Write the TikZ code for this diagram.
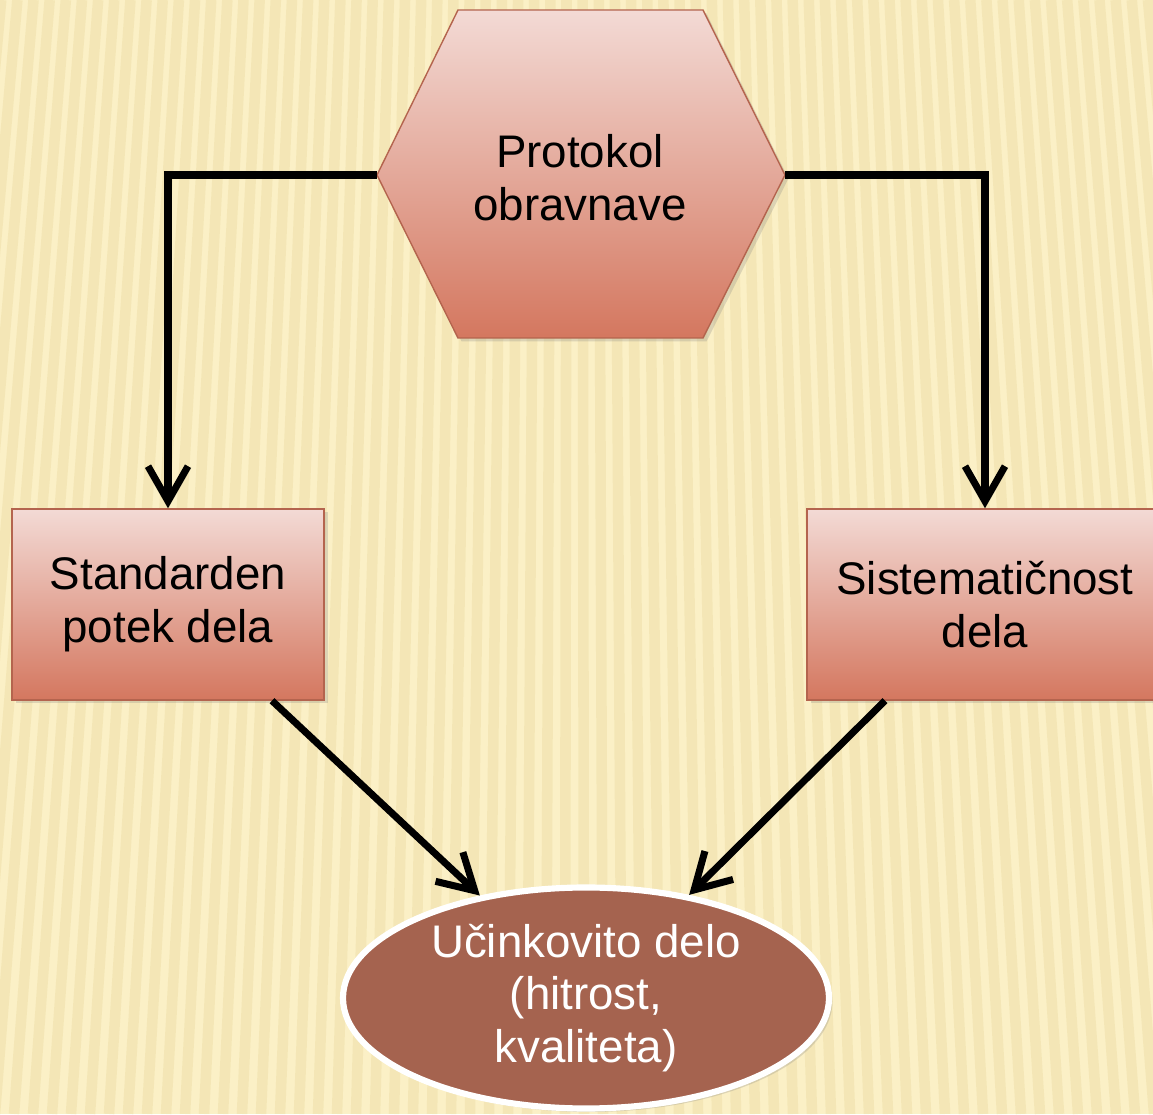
\documentclass[tikz,border=0pt]{standalone}
\usepackage{fontspec}
\setmainfont{Liberation Sans}
\usetikzlibrary{shapes.geometric, arrows.meta, positioning, calc, shadows}
\definecolor{paperyellow}{RGB}{251, 240, 198}
\definecolor{stripeyellow}{RGB}{230, 210, 146}
\definecolor{rosetop}{RGB}{243, 218, 213}
\definecolor{rosebot}{RGB}{212, 119, 95}
\definecolor{roseedge}{RGB}{180, 100, 78}
\definecolor{clayfill}{RGB}{165, 99, 79}

\begin{document}
\begin{tikzpicture}[
  rosebox/.style={draw=roseedge, line width=0.8pt, top color=rosetop, bottom color=rosebot,
    minimum height=3.82cm, inner sep=0pt, align=center},
  softshadow/.style={drop shadow={opacity=0.25, shadow xshift=0.07cm, shadow yshift=-0.07cm}},
  bigtext/.style={font=\fontsize{26}{30}\selectfont, align=center},
  flow/.style={line width=4pt, -{Straight Barb[length=0.7cm, width=0.8cm]}}
]
  \useasboundingbox (0,0) rectangle (23.06,22.28);
  \clip (0,0) rectangle (23.06,22.28);

  % Background: yellow paper with fanned stripes
  \fill[paperyellow] (0,0) rectangle (23.06,22.28);
  \foreach \x in {-2,-1.62,...,25.5}
    \draw[stripeyellow, line width=6pt, opacity=0.3] (\x,0) -- ({11.5+(\x-11.5)*0.85},22.28);

  % Hexagon: protocol
  \coordinate (hexW) at (7.54,18.78);
  \coordinate (hexE) at (15.70,18.78);
  \path[draw=roseedge, line width=0.8pt, top color=rosetop, bottom color=rosebot, softshadow]
    (hexW) -- (9.16,22.08) -- (14.06,22.08) -- (hexE) -- (14.06,15.52) -- (9.16,15.52) -- cycle;
  \node[bigtext] (proto) at (11.6,18.72) {Protokol\\obravnave};

  % Two boxes
  \node[rosebox, softshadow, minimum width=6.24cm, bigtext] (std) at (3.36,10.19) {Standarden\\potek dela};
  \node[rosebox, softshadow, minimum width=7.12cm, bigtext] (sis) at (19.7,10.19) {Sistematičnost\\dela};

  % Result ellipse
  \node[ellipse, draw=white, line width=3.5pt, fill=clayfill, softshadow, inner sep=0pt,
    minimum width=9.72cm, minimum height=4.42cm, bigtext, text=white] (eff) at (11.72,2.32)
    {Učinkovito delo\\(hitrost,\\kvaliteta)};

  % Connectors
  \draw[flow] (hexW) -| (std.north);
  \draw[flow] (hexE) -| (sis.north);
  \draw[flow] ([xshift=2.08cm]std.south) -- (eff.136);
  \draw[flow] ([xshift=-2.0cm]sis.south) -- (eff.45);
\end{tikzpicture}
\end{document}
